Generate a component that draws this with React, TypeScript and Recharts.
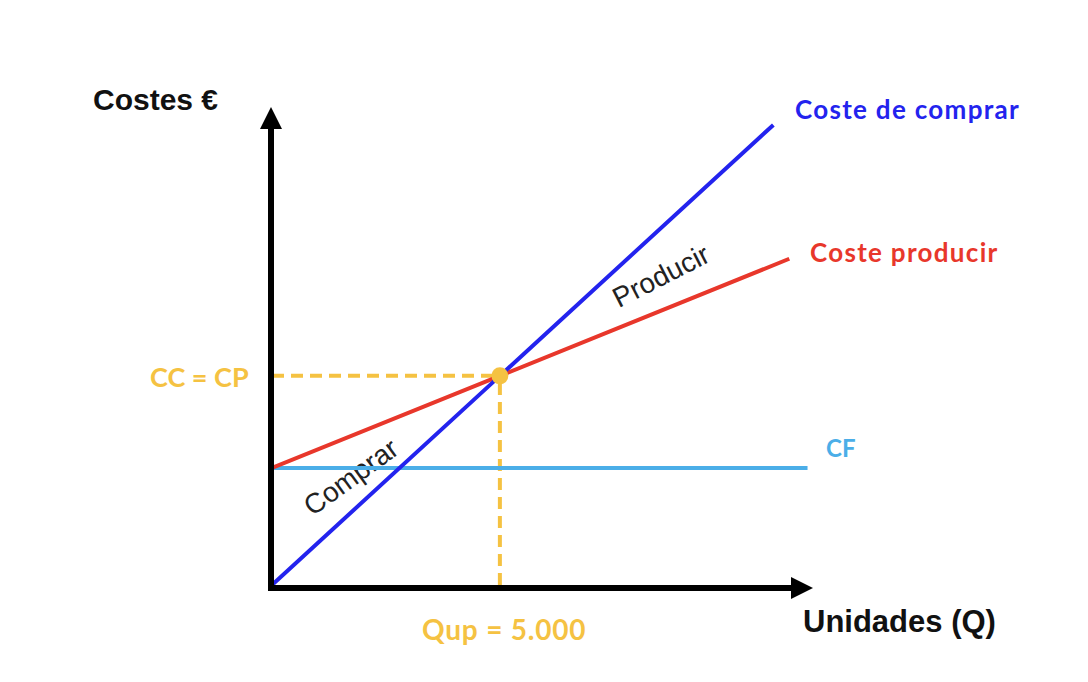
import React from 'react';
import { LineChart, Line, XAxis, YAxis, ReferenceLine, ReferenceDot } from 'recharts';

// units (Q) and costs (€)
const buyQ = [0, 5000, 11000];
const buyCost = [0, 50000, 110000];
const makeQ = [0, 5000, 11350];
const makeCost = [28000, 50000, 78000];
const fixedQ = [0, 11750];
const fixedCost = [28000, 28000];
const breakEvenQ = 5000;
const breakEvenCost = 50000;
const xMax = 11870;
const yMax = 115000;

const toRows = (qs: number[], costs: number[]) => qs.map((q, i) => ({ q, cost: costs[i] }));
const buyData = toRows(buyQ, buyCost);
const makeData = toRows(makeQ, makeCost);
const fixedData = toRows(fixedQ, fixedCost);

const BLUE = '#2323EE';
const RED = '#E8372B';
const CYAN = '#4BAEE8';
const YELLOW = '#F5C242';

const W = 1088;
const H = 682;

const ARIAL = "'Liberation Sans', Arial, sans-serif";
const CALIBRI = 'Lato, sans-serif';

// axis drawn as a thick line with a triangular head at the (x2, y2) end
const arrowAxis = (dir: 'x' | 'y') => (props: any) => {
  const { x1, y1, x2, y2 } = props;
  if (dir === 'x') {
    const y = y1 + 3;
    return (
      <g>
        <line x1={x1 - 4} y1={y} x2={x2 - 18} y2={y} stroke="#000" strokeWidth={6} />
        <polygon points={`${x2},${y} ${x2 - 22},${y - 11} ${x2 - 22},${y + 11}`} fill="#000" />
      </g>
    );
  }
  const x = x1 - 1;
  return (
    <g>
      <line x1={x} y1={y1 + 6} x2={x} y2={y2 + 18} stroke="#000" strokeWidth={6} />
      <polygon points={`${x},${y2 + 3} ${x - 11},${y2 + 25} ${x + 11},${y2 + 25}`} fill="#000" />
    </g>
  );
};

const App: React.FC = () => {
  return (
    <div style={{ position: 'fixed', left: 0, top: 0, width: W, height: H, background: '#fff' }}>
      <LineChart width={W} height={H} margin={{ top: 104, right: 275, bottom: 97, left: 272 }}>
        <XAxis type="number" dataKey="q" domain={[0, xMax]} allowDataOverflow hide />
        <YAxis type="number" dataKey="cost" domain={[0, yMax]} allowDataOverflow hide />

        <ReferenceLine
          segment={[{ x: 0, y: breakEvenCost }, { x: breakEvenQ, y: breakEvenCost }]}
          stroke={YELLOW}
          strokeWidth={4}
          strokeDasharray="12 7"
          ifOverflow="visible"
        />
        <ReferenceLine
          segment={[{ x: breakEvenQ, y: 0 }, { x: breakEvenQ, y: breakEvenCost }]}
          stroke={YELLOW}
          strokeWidth={4}
          strokeDasharray="12 7"
          ifOverflow="visible"
        />

        <Line data={fixedData} dataKey="cost" stroke={CYAN} strokeWidth={4} dot={false} isAnimationActive={false} />
        <Line data={makeData} dataKey="cost" stroke={RED} strokeWidth={4} dot={false} isAnimationActive={false} />
        <Line data={buyData} dataKey="cost" stroke={BLUE} strokeWidth={4} dot={false} isAnimationActive={false} />

        <ReferenceLine segment={[{ x: 0, y: 0 }, { x: xMax, y: 0 }]} ifOverflow="visible" shape={arrowAxis('x')} />
        <ReferenceLine segment={[{ x: 0, y: 0 }, { x: 0, y: yMax }]} ifOverflow="visible" shape={arrowAxis('y')} />

        <ReferenceDot x={breakEvenQ} y={breakEvenCost} r={8.5} fill={YELLOW} stroke="none" ifOverflow="visible" />

        <text x={93} y={110} fontFamily={ARIAL} fontWeight={700} fontSize={30} fill="#111">
          Costes €
        </text>
        <text x={803} y={632} fontFamily={ARIAL} fontWeight={700} fontSize={31} fill="#111">
          Unidades (Q)
        </text>
        <text x={795} y={119} fontFamily={CALIBRI} fontWeight={700} fontSize={26} letterSpacing={1.3} fill={BLUE}>
          Coste de comprar
        </text>
        <text x={810} y={262} fontFamily={CALIBRI} fontWeight={700} fontSize={26} letterSpacing={1.3} fill={RED}>
          Coste producir
        </text>
        <text x={826} y={457} fontFamily={CALIBRI} fontWeight={700} fontSize={24} fill={CYAN}>
          CF
        </text>
        <text x={150} y={387} fontFamily={CALIBRI} fontWeight={700} fontSize={27} fill={YELLOW}>
          CC = CP
        </text>
        <text x={422} y={640} fontFamily={CALIBRI} fontWeight={700} fontSize={28} letterSpacing={0.8} fill={YELLOW}>
          Qup = 5.000
        </text>
        <text
          x={351}
          y={477}
          textAnchor="middle"
          dominantBaseline="central"
          transform="rotate(-36 351 477)"
          fontFamily={ARIAL}
          fontSize={28}
          fill="#222"
        >
          Comprar
        </text>
        <text
          x={661}
          y={276}
          textAnchor="middle"
          dominantBaseline="central"
          transform="rotate(-27 661 276)"
          fontFamily={ARIAL}
          fontSize={28}
          fill="#222"
        >
          Producir
        </text>
      </LineChart>
    </div>
  );
};

export default App;
